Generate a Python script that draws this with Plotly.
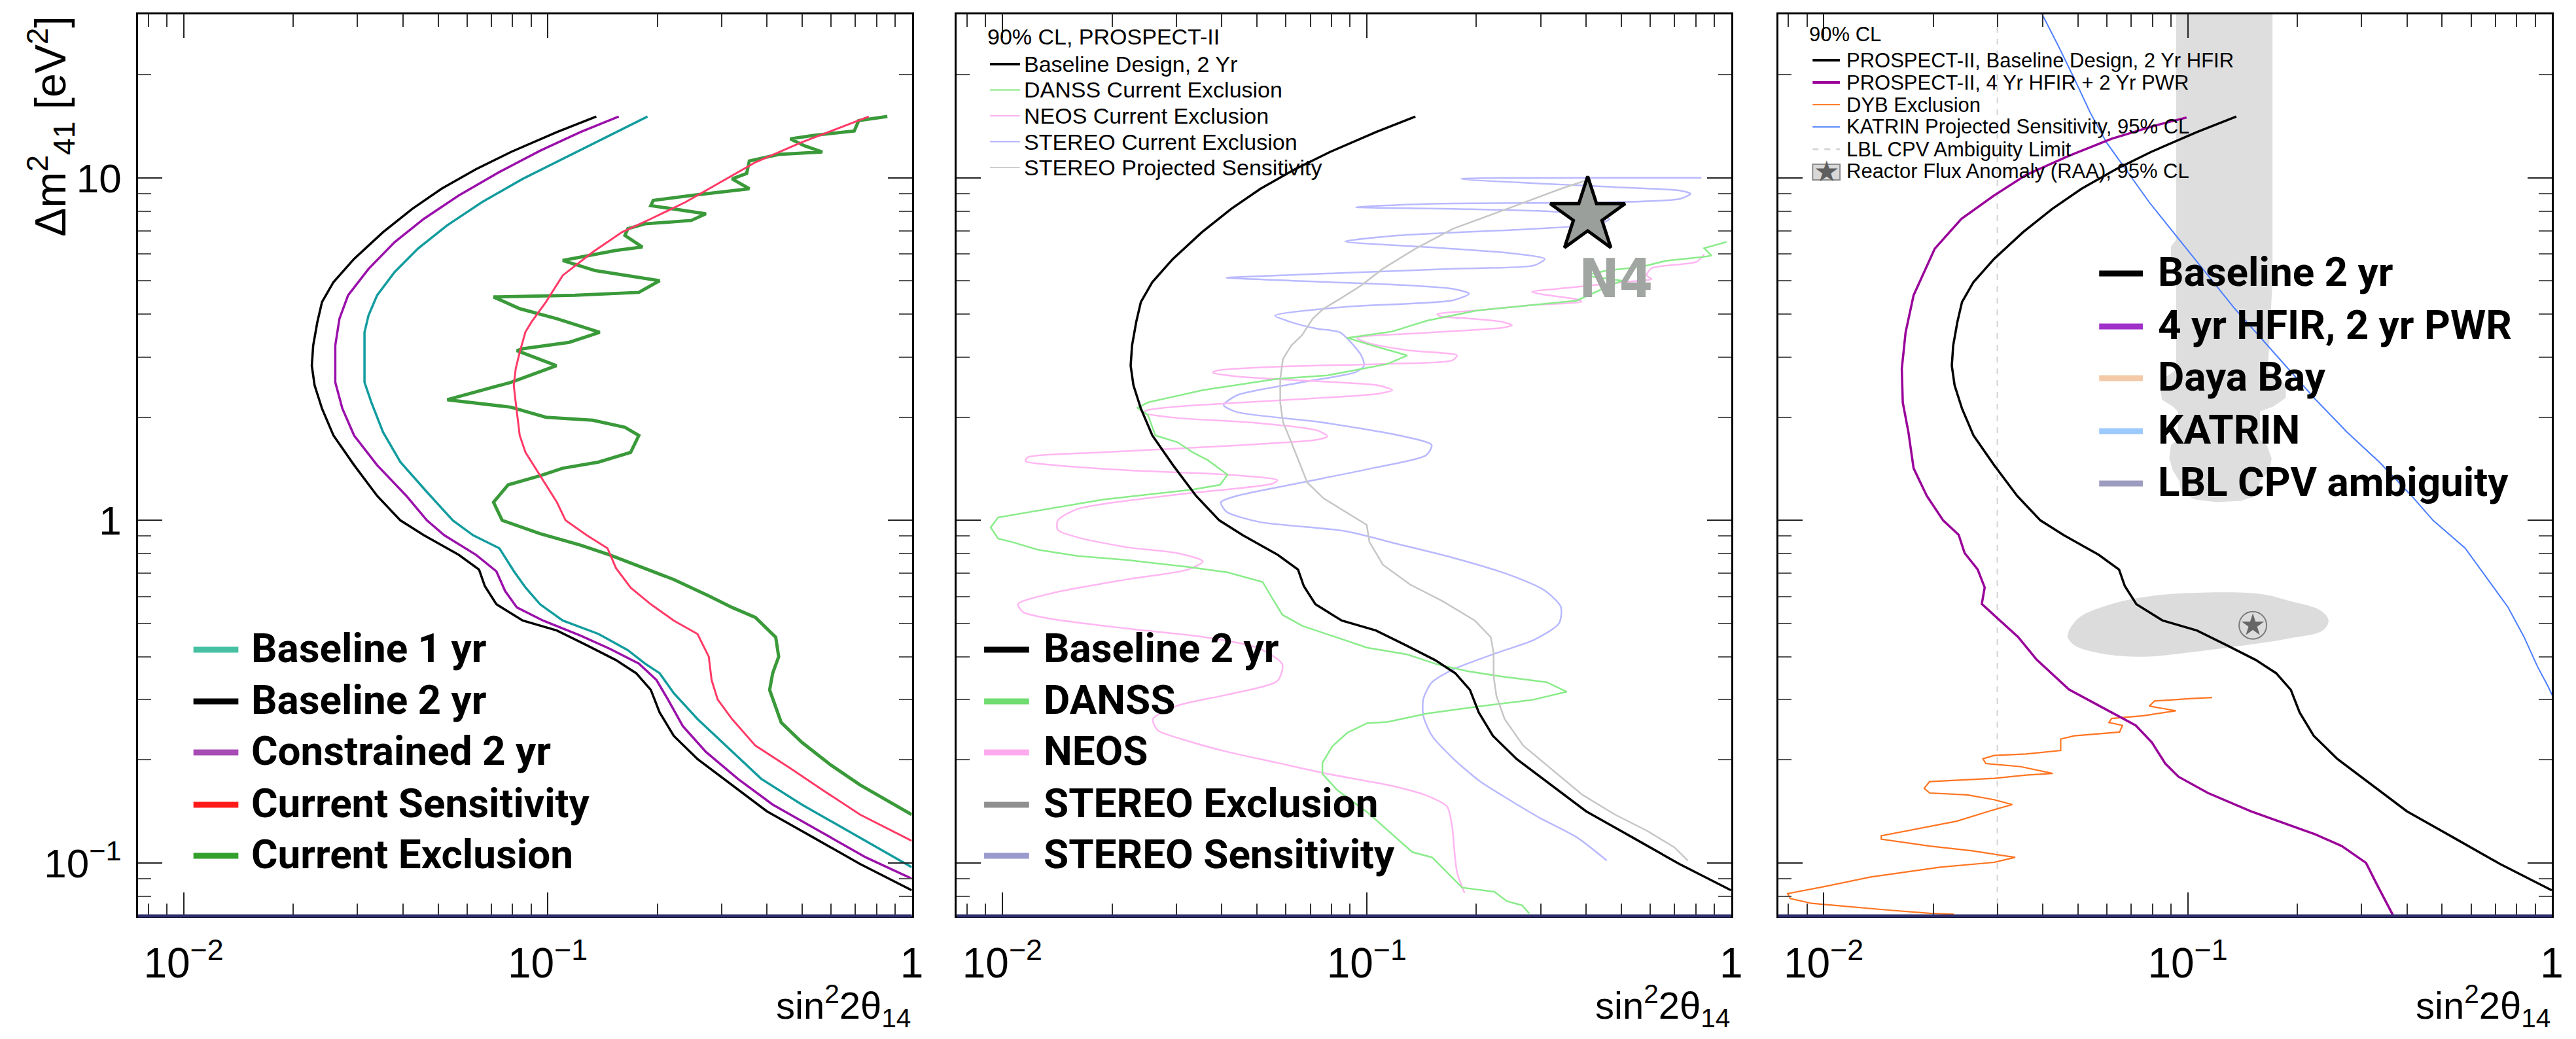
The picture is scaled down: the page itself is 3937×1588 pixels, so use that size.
import math
import plotly.graph_objects as go

# ---------------- data (sin^2 2theta14 , dm^2_41 [eV^2]) ----------------
baseline_2yr_x = [0.136, 0.106, 0.0793, 0.0636, 0.0511, 0.0425, 0.0353, 0.0294, 0.0258, 0.0240, 0.0233, 0.0227,
                  0.0225, 0.0229, 0.0240, 0.0258, 0.0294, 0.0340, 0.0394, 0.0457, 0.0570, 0.0648, 0.0672, 0.0723,
                  0.0854, 0.106, 0.128, 0.154, 0.175, 0.192, 0.203, 0.222, 0.258, 0.321, 0.400, 0.537, 0.721, 1.0]
baseline_2yr_y = [15.1, 13.6, 11.9, 10.6, 9.29, 8.12, 6.94, 5.80, 4.96, 4.34, 3.79, 3.24,
                  2.83, 2.48, 2.12, 1.77, 1.45, 1.18, 1.0, 0.905, 0.793, 0.718, 0.643, 0.569,
                  0.510, 0.477, 0.432, 0.391, 0.358, 0.320, 0.275, 0.235, 0.201, 0.169, 0.1415, 0.1186, 0.0993, 0.0832]

constrained_2yr_x = [0.1567, 0.123, 0.0953, 0.0737, 0.0570, 0.0457, 0.0380, 0.0322, 0.0283, 0.0268, 0.0261, 0.0261,
                     0.0273, 0.0294, 0.0340, 0.0409, 0.0466, 0.0520, 0.0636, 0.0723, 0.0764, 0.0823, 0.0971, 0.123,
                     0.148, 0.178, 0.199, 0.214, 0.235, 0.272, 0.333, 0.415, 0.557, 0.748, 1.0]
constrained_2yr_y = [15.1, 13.6, 12.0, 10.4, 8.88, 7.59, 6.49, 5.42, 4.54, 3.88, 3.24, 2.53,
                     2.12, 1.77, 1.45, 1.18, 1.0, 0.905, 0.793, 0.710, 0.622, 0.557, 0.510, 0.461,
                     0.422, 0.382, 0.342, 0.300, 0.251, 0.211, 0.176, 0.148, 0.124, 0.1038, 0.090]

baseline_1yr_x = [0.188, 0.148, 0.1146, 0.0854, 0.066, 0.0529, 0.044, 0.038, 0.034, 0.0322, 0.0314, 0.0314,
                  0.0328, 0.0353, 0.0394, 0.0466, 0.0549, 0.0624, 0.0737, 0.0808, 0.087, 0.0953, 0.110, 0.138,
                  0.166, 0.185, 0.203, 0.222, 0.258, 0.309, 0.386, 0.499, 0.670, 1.0]
baseline_1yr_y = [15.1, 13.3, 11.6, 9.93, 8.49, 7.26, 6.21, 5.31, 4.54, 3.96, 3.54, 2.53,
                  2.21, 1.81, 1.48, 1.21, 1.0, 0.905, 0.829, 0.710, 0.636, 0.569, 0.510, 0.466,
                  0.418, 0.382, 0.358, 0.313, 0.263, 0.220, 0.176, 0.148, 0.124, 0.0972]

current_sens_x = [0.762, 0.622, 0.499, 0.372, 0.298, 0.239, 0.192, 0.160, 0.133, 0.110, 0.0989, 0.0902, 0.0869,
                  0.0838, 0.0817, 0.0807, 0.0817, 0.0838, 0.0869, 0.0953, 0.106, 0.112, 0.128, 0.146, 0.154,
                  0.169, 0.192, 0.222, 0.258, 0.277, 0.282, 0.293, 0.321, 0.372, 0.464, 0.578, 0.721, 1.0]
current_sens_y = [15.1, 13.9, 12.7, 11.1, 9.71, 8.49, 7.59, 6.94, 6.07, 5.19, 4.34, 3.79, 3.55,
                  3.10, 2.77, 2.48, 2.21, 1.77, 1.58, 1.35, 1.13, 1.0, 0.905, 0.829, 0.726,
                  0.636, 0.569, 0.510, 0.466, 0.400, 0.342, 0.300, 0.263, 0.220, 0.189, 0.1615, 0.1384, 0.116]

current_excl_x = [0.857, 0.715, 0.695, 0.537, 0.464, 0.508, 0.568, 0.431, 0.358, 0.352,
                  0.321, 0.358, 0.248, 0.195, 0.192, 0.272, 0.248, 0.185, 0.166, 0.163,
                  0.182, 0.154, 0.123, 0.110, 0.135, 0.203, 0.178, 0.119, 0.071, 0.0838,
                  0.106, 0.139, 0.1146, 0.0854, 0.0823, 0.1057, 0.0793, 0.053, 0.0793, 0.0989,
                  0.133, 0.163, 0.178, 0.169, 0.138, 0.110, 0.0953, 0.0779, 0.071, 0.075,
                  0.0953, 0.123, 0.148, 0.185, 0.222, 0.277, 0.321, 0.372, 0.423, 0.431,
                  0.415, 0.407, 0.438, 0.499, 0.600, 0.721, 1.0]
current_excl_y = [15.1, 14.7, 13.7, 13.3, 13.0, 12.4, 11.9, 11.7, 11.2, 10.3,
                  9.93, 9.29, 8.88, 8.59, 8.30, 7.85, 7.51, 7.34, 7.10, 6.79,
                  6.28, 6.14, 5.87, 5.74, 5.36, 5.01, 4.63, 4.54, 4.49, 4.15,
                  3.88, 3.54, 3.31, 3.17, 3.13, 2.83, 2.53, 2.25, 2.14, 2.00,
                  1.96, 1.87, 1.77, 1.58, 1.48, 1.42, 1.35, 1.27, 1.13, 1.0,
                  0.915, 0.847, 0.793, 0.726, 0.672, 0.602, 0.557, 0.521, 0.456, 0.400,
                  0.358, 0.320, 0.257, 0.225, 0.193, 0.169, 0.1384]

stereo_sens_x = [0.412, 0.341, 0.243, 0.1725, 0.136, 0.1108, 0.0966, 0.0844, 0.0761, 0.0711,
                 0.0664, 0.0621, 0.0589, 0.0579, 0.0579, 0.0589, 0.0621, 0.0653, 0.0687, 0.0761,
                 0.0873, 0.1, 0.1017, 0.1108, 0.1314, 0.161, 0.198, 0.219, 0.223, 0.223,
                 0.227, 0.239, 0.269, 0.319, 0.391, 0.480, 0.589, 0.699, 0.761]
stereo_sens_y = [9.93, 9.29, 8.12, 7.10, 6.21, 5.43, 4.85, 4.43, 4.15, 3.88,
                 3.47, 3.24, 2.96, 2.59, 2.21, 1.94, 1.69, 1.48, 1.29, 1.16,
                 1.06, 0.97, 0.866, 0.742, 0.650, 0.582, 0.510, 0.456, 0.409, 0.350,
                 0.307, 0.263, 0.220, 0.189, 0.158, 0.1384, 0.124, 0.111, 0.1016]

stereo_excl_x = [0.829, 0.1817, 0.480, 0.723, 0.774, 0.723, 0.480, 0.1507, 0.0934, 0.1725,
                 0.341, 0.464, 0.434, 0.288, 0.1227, 0.0873, 0.1456, 0.243, 0.308, 0.288,
                 0.1725, 0.0873, 0.0441, 0.0412, 0.062, 0.1227, 0.1725, 0.191, 0.1725, 0.0873,
                 0.056, 0.062, 0.0736, 0.0844, 0.0966, 0.0983, 0.0934, 0.0664, 0.0441, 0.0405,
                 0.0441, 0.0736, 0.1227, 0.1507, 0.1456, 0.1035, 0.0664, 0.0441, 0.0398, 0.0412,
                 0.0506, 0.0873, 0.1227, 0.1725, 0.243, 0.308, 0.341, 0.337, 0.288, 0.227,
                 0.1725, 0.1507, 0.143, 0.143, 0.1507, 0.1725, 0.2047, 0.251, 0.298, 0.378, 0.456]
stereo_excl_y = [10.0, 9.93, 9.39, 9.18, 8.98, 8.68, 8.49, 8.40, 8.21, 8.12,
                 7.94, 7.59, 7.34, 7.10, 6.79, 6.52, 6.28, 6.04, 5.80, 5.55,
                 5.43, 5.28, 5.13, 5.11, 5.01, 4.87, 4.74, 4.59, 4.39, 4.20,
                 3.96, 3.79, 3.62, 3.54, 3.03, 2.83, 2.71, 2.53, 2.32, 2.17,
                 2.07, 1.94, 1.77, 1.66, 1.55, 1.42, 1.29, 1.18, 1.13, 1.06,
                 0.99, 0.93, 0.851, 0.778, 0.697, 0.624, 0.559, 0.500, 0.448, 0.410,
                 0.367, 0.336, 0.301, 0.269, 0.236, 0.202, 0.173, 0.151, 0.1355, 0.1186, 0.1016]

danss_x = [0.971, 0.843, 0.884, 0.843, 0.665, 0.568, 0.456, 0.396, 0.501, 0.442,
           0.377, 0.275, 0.201, 0.1466, 0.1175, 0.0885, 0.1036, 0.1292, 0.1139, 0.078,
           0.0569, 0.0355, 0.0251, 0.0235, 0.0251, 0.0263, 0.0303, 0.0333, 0.0366, 0.0415,
           0.0396, 0.0333, 0.0189, 0.00974, 0.00929, 0.00974, 0.0107, 0.01253, 0.0161, 0.0221,
           0.0323, 0.0415, 0.0518, 0.0551, 0.0587, 0.0666, 0.0857, 0.1004, 0.1292, 0.156,
           0.1886, 0.235, 0.312, 0.354, 0.284, 0.201, 0.1466, 0.1139, 0.1004, 0.0885,
           0.0805, 0.0756, 0.0756, 0.0831, 0.1004, 0.1175, 0.1333, 0.1512, 0.1662, 0.1827,
           0.224, 0.2426, 0.2667, 0.2796]
danss_y = [6.50, 6.23, 5.93, 5.88, 5.73, 5.50, 5.36, 5.19, 5.01, 4.73,
           4.38, 4.24, 4.10, 3.83, 3.56, 3.41, 3.24, 3.03, 2.86, 2.65,
           2.59, 2.40, 2.21, 2.13, 2.03, 1.77, 1.69, 1.58, 1.50, 1.36,
           1.27, 1.23, 1.15, 1.02, 0.954, 0.885, 0.863, 0.821, 0.787, 0.766,
           0.731, 0.705, 0.661, 0.592, 0.530, 0.492, 0.449, 0.425, 0.406, 0.380,
           0.363, 0.350, 0.337, 0.316, 0.299, 0.286, 0.273, 0.258, 0.256, 0.240,
           0.219, 0.196, 0.182, 0.163, 0.1406, 0.1213, 0.1076, 0.1038, 0.0938, 0.0847,
           0.0824, 0.0773, 0.0752, 0.0711]

neos_x = [0.843, 0.804, 0.605, 0.586, 0.605, 0.517, 0.354, 0.284, 0.3025, 0.377,
          0.389, 0.275, 0.201, 0.156, 0.161, 0.1827, 0.235, 0.2503, 0.235, 0.1466,
          0.0942, 0.1004, 0.1292, 0.177, 0.1715, 0.1069, 0.0569, 0.039, 0.0378, 0.0442,
          0.0666, 0.1069, 0.1175, 0.1069, 0.0569, 0.0303, 0.0251, 0.0243, 0.0303, 0.0486,
          0.0732, 0.078, 0.0732, 0.0415, 0.0189, 0.01177, 0.01158, 0.01377, 0.0221, 0.0415,
          0.0569, 0.0551, 0.0303, 0.0161, 0.0142, 0.0142, 0.0161, 0.0221, 0.0303, 0.0355,
          0.0323, 0.0221, 0.01377, 0.01105, 0.0114, 0.01377, 0.0221, 0.0355, 0.0501, 0.0587,
          0.0569, 0.0415, 0.0303, 0.0259, 0.0267, 0.0323, 0.0415, 0.0569, 0.078, 0.1139,
          0.1466, 0.1662, 0.1715, 0.1743, 0.177, 0.1855]
neos_y = [5.98, 5.69, 5.45, 5.19, 5.06, 4.97, 4.77, 4.65, 4.57, 4.42,
          4.35, 4.24, 4.10, 4.00, 3.93, 3.90, 3.80, 3.71, 3.65, 3.53,
          3.41, 3.30, 3.14, 3.03, 2.93, 2.86, 2.81, 2.74, 2.70, 2.63,
          2.56, 2.48, 2.40, 2.34, 2.24, 2.15, 2.10, 2.06, 1.99, 1.93,
          1.83, 1.76, 1.72, 1.65, 1.58, 1.53, 1.49, 1.45, 1.40, 1.36,
          1.31, 1.28, 1.19, 1.08, 1.00, 0.938, 0.892, 0.834, 0.802, 0.759,
          0.718, 0.673, 0.614, 0.570, 0.540, 0.515, 0.483, 0.457, 0.425, 0.380,
          0.340, 0.310, 0.288, 0.263, 0.244, 0.227, 0.211, 0.196, 0.182, 0.169,
          0.157, 0.146, 0.128, 0.1067, 0.0938, 0.0817]

n4_x = [0.404]
n4_y = [7.75]
n4_label_x = 0.483
n4_label_y = 5.08

hfir_pwr_x = [0.0993, 0.0811, 0.0618, 0.0472, 0.036, 0.0294, 0.0239, 0.0202, 0.01767, 0.0168,
              0.0164, 0.0165, 0.0171, 0.01767, 0.0192, 0.0213, 0.0235, 0.0244, 0.0265, 0.0277,
              0.0272, 0.0304, 0.0342, 0.0385, 0.0472, 0.0618, 0.0720, 0.0797, 0.0868, 0.0944,
              0.1137, 0.149, 0.1827, 0.224, 0.265, 0.309, 0.330, 0.366]
hfir_pwr_y = [15.0, 14.2, 13.0, 11.6, 10.2, 8.88, 7.59, 6.21, 4.54, 3.54,
              2.77, 2.21, 1.81, 1.42, 1.18, 1.0, 0.907, 0.803, 0.719, 0.637,
              0.570, 0.511, 0.457, 0.392, 0.321, 0.275, 0.252, 0.225, 0.195, 0.1785,
              0.160, 0.1415, 0.131, 0.1212, 0.112, 0.100, 0.087, 0.0705]

dyb_x = [0.1168, 0.1027, 0.0811, 0.0784, 0.0928, 0.0868, 0.0757, 0.0618, 0.0608, 0.0662,
         0.065, 0.0488, 0.0448, 0.0448, 0.036, 0.0294, 0.0274, 0.0279, 0.0348, 0.0426,
         0.036, 0.0294, 0.01955, 0.0189, 0.01955, 0.0248, 0.0294, 0.033, 0.0294, 0.0232,
         0.01767, 0.0144, 0.0144, 0.01955, 0.0256, 0.0336, 0.0294, 0.0209, 0.01347, 0.00993,
         0.00797, 0.0081, 0.00928, 0.01177, 0.0149, 0.01955, 0.0228]
dyb_y = [0.304, 0.302, 0.297, 0.287, 0.278, 0.275, 0.269, 0.264, 0.257, 0.252,
         0.241, 0.235, 0.230, 0.213, 0.208, 0.206, 0.2015, 0.195, 0.191, 0.1825,
         0.1805, 0.1766, 0.1727, 0.1652, 0.160, 0.158, 0.153, 0.148, 0.143, 0.1324,
         0.1253, 0.120, 0.1173, 0.112, 0.1085, 0.1038, 0.1004, 0.0972, 0.091, 0.0851,
         0.0814, 0.0787, 0.0762, 0.0745, 0.0729, 0.0713, 0.0708]

katrin_x = [0.0398, 0.0441, 0.0488, 0.054, 0.0598, 0.0684, 0.0784, 0.0897, 0.1027, 0.1177,
            0.1347, 0.1596, 0.189, 0.224, 0.274, 0.336, 0.412, 0.472, 0.578, 0.662,
            0.758, 0.839, 0.913, 0.976, 1.01]
katrin_y = [30.1, 24.3, 19.5, 15.5, 12.7, 10.4, 8.49, 7.10, 5.93, 4.96,
            4.15, 3.39, 2.77, 2.26, 1.81, 1.48, 1.18, 1.0, 0.830, 0.681,
            0.558, 0.457, 0.375, 0.328, 0.304]

lbl_cpv_x = [0.03, 0.03]
lbl_cpv_y = [0.07, 30.0]

raa_band_x = [0.093, 0.093, 0.090, 0.090, 0.093, 0.093, 0.087, 0.084, 0.085, 0.091, 0.094, 0.094,
              0.090, 0.089, 0.091, 0.095, 0.096, 0.105, 0.12, 0.14, 0.155, 0.158, 0.168, 0.170,
              0.165, 0.158, 0.158, 0.172, 0.186, 0.186, 0.178, 0.166, 0.168, 0.171, 0.171]
raa_band_y = [30.0, 6.6, 6.3, 5.8, 5.5, 2.75, 2.62, 2.45, 2.25, 2.15, 2.08, 1.72,
              1.66, 1.52, 1.40, 1.30, 1.20, 1.15, 1.13, 1.14, 1.18, 1.30, 1.40, 1.52,
              1.66, 1.72, 2.08, 2.15, 2.28, 2.48, 2.60, 2.75, 3.5, 5.0, 30.0]

raa_ellipse_x = [0.0472, 0.0505, 0.0618, 0.0811, 0.1137, 0.1596, 0.189, 0.2316, 0.2436,
                 0.2355, 0.189, 0.1347, 0.0960, 0.0757, 0.0578, 0.0488, 0.0467]
raa_ellipse_y = [0.478, 0.522, 0.570, 0.603, 0.616, 0.609, 0.583, 0.546, 0.511,
                 0.478, 0.452, 0.428, 0.409, 0.400, 0.409, 0.432, 0.457]
raa_best_x = [0.151]
raa_best_y = [0.494]

x_tick_vals = [0.01, 0.1, 1]
x_tick_text = ["10<sup>\u22122</sup>", "10<sup>\u22121</sup>", "1"]
y_tick_vals = [0.1, 1, 10]
y_tick_text = ["10<sup>\u22121</sup>", "1", "10"]
x_minor_vals = [0.008, 0.009, 0.02, 0.03, 0.04, 0.05, 0.06, 0.07, 0.08, 0.09,
                0.2, 0.3, 0.4, 0.5, 0.6, 0.7, 0.8, 0.9]
y_minor_vals = [0.08, 0.09, 0.2, 0.3, 0.4, 0.5, 0.6, 0.7, 0.8, 0.9,
                2, 3, 4, 5, 6, 7, 8, 9, 20]

legend1_names = ["Baseline 1 yr", "Baseline 2 yr", "Constrained 2 yr", "Current Sensitivity", "Current Exclusion"]
legend1_colors = ["#45c0a2", "black", "#a64cb4", "#ff1a1a", "#33a02c"]
legend2_names = ["Baseline 2 yr", "DANSS", "NEOS", "STEREO Exclusion", "STEREO Sensitivity"]
legend2_colors = ["black", "#6fdc6f", "#ffaaee", "#8f8f8f", "#9a9acc"]
legend3_names = ["Baseline 2 yr", "4 yr HFIR, 2 yr PWR", "Daya Bay", "KATRIN", "LBL CPV ambiguity"]
legend3_colors = ["black", "#a030c8", "#f3c9a8", "#9ccaff", "#9c9cc0"]

# ---------------- layout constants ----------------
W, H = 3937, 1588
PANELS = [(212, 1400), (1469, 2658), (2730, 3918)]
Y_TOP, Y_BOT = 22, 1400
XR = [math.log10(0.0075), 0.0002]
YR = [math.log10(0.07), math.log10(30.0)]
TXT = "Liberation Sans, Arial, Helvetica, sans-serif"
BOLD = "Roboto, Liberation Sans, Arial, sans-serif"


def px(v):
    return v / W


def py(v):
    return 1 - v / H


fig = go.Figure()


def line(xs, ys, color, width, ax, dash="solid", shape="linear"):
    fig.add_trace(go.Scatter(x=xs, y=ys, mode="lines", showlegend=False, hoverinfo="skip",
                             line=dict(color=color, width=width, dash=dash, shape=shape,
                                       smoothing=0.7 if shape == "spline" else None),
                             xaxis="x" + ax, yaxis="y" + ax))


# ---- panel 1 ----
line(current_excl_x, current_excl_y, "#3a9a3a", 5, "")
line(current_sens_x, current_sens_y, "#ff3a66", 3, "")
line(baseline_1yr_x, baseline_1yr_y, "#129c9e", 3.5, "")
line(constrained_2yr_x, constrained_2yr_y, "#9a10aa", 3.5, "")
line(baseline_2yr_x, baseline_2yr_y, "black", 3.5, "")

# ---- panel 2 ----
line(stereo_excl_x, stereo_excl_y, "#b9b9ff", 2.5, "2", shape="spline")
line(neos_x, neos_y, "#ffb6f2", 2.5, "2", shape="spline")
line(danss_x, danss_y, "#8aec8a", 2.5, "2")
line(stereo_sens_x, stereo_sens_y, "#c6c6c6", 2.5, "2")
line(baseline_2yr_x, baseline_2yr_y, "black", 3.5, "2")
fig.add_trace(go.Scatter(x=n4_x, y=n4_y, mode="markers", showlegend=False, hoverinfo="skip",
                         marker=dict(symbol="star", size=86, color="#9b9f9b", line=dict(color="black", width=5)),
                         xaxis="x2", yaxis="y2"))

# ---- panel 3 ----
fig.add_trace(go.Scatter(x=raa_band_x, y=raa_band_y, mode="lines", fill="toself", fillcolor="#dedede",
                         line=dict(width=0, color="#dedede"), showlegend=False, hoverinfo="skip",
                         xaxis="x3", yaxis="y3"))
fig.add_trace(go.Scatter(x=raa_ellipse_x, y=raa_ellipse_y, mode="lines", fill="toself", fillcolor="#dcdcdc",
                         line=dict(width=0, color="#dcdcdc", shape="spline"), showlegend=False, hoverinfo="skip",
                         xaxis="x3", yaxis="y3"))
line(lbl_cpv_x, lbl_cpv_y, "#d4d4d4", 2, "3", dash="dash")
line(dyb_x, dyb_y, "#ff7420", 2.2, "3")
line(katrin_x, katrin_y, "#4a7dff", 2, "3")
line(hfir_pwr_x, hfir_pwr_y, "#990099", 3.5, "3")
line(baseline_2yr_x, baseline_2yr_y, "black", 3.5, "3")
fig.add_trace(go.Scatter(x=raa_best_x, y=raa_best_y, mode="markers", showlegend=False, hoverinfo="skip",
                         marker=dict(symbol="circle-open", size=42, color="#7a7a7a", line=dict(width=2)),
                         xaxis="x3", yaxis="y3"))
fig.add_trace(go.Scatter(x=raa_best_x, y=raa_best_y, mode="markers", showlegend=False, hoverinfo="skip",
                         marker=dict(symbol="star", size=26, color="#666666", line=dict(width=0)),
                         xaxis="x3", yaxis="y3"))

# ---------------- axes ----------------
for i, (x0, x1) in enumerate(PANELS):
    sfx = "" if i == 0 else str(i + 1)
    fig.layout["xaxis" + sfx] = dict(
        type="log", range=XR, domain=[px(x0), px(x1)], anchor="y" + sfx,
        showgrid=False, zeroline=False, showline=True, linecolor="black", linewidth=3, mirror="ticks",
        ticks="inside", ticklen=36, tickwidth=2, tickcolor="#222",
        tickmode="array", tickvals=x_tick_vals, ticktext=x_tick_text,
        tickfont=dict(family=TXT, size=64, color="black"), ticklabelstandoff=14,
        minor=dict(ticks="inside", ticklen=19, tickwidth=2, tickcolor="#333", tickmode="array",
                   tickvals=x_minor_vals, showgrid=False))
    fig.layout["yaxis" + sfx] = dict(
        type="log", range=YR, domain=[py(Y_BOT), py(Y_TOP)], anchor="x" + sfx,
        showgrid=False, zeroline=False, showline=True, linecolor="black", linewidth=3, mirror="ticks",
        ticks="inside", ticklen=37, tickwidth=2, tickcolor="#222",
        tickmode="array", tickvals=y_tick_vals, ticktext=y_tick_text, showticklabels=(i == 0),
        tickfont=dict(family=TXT, size=62, color="black"), ticklabelstandoff=10,
        minor=dict(ticks="inside", ticklen=20, tickwidth=2, tickcolor="#555", tickmode="array",
                   tickvals=y_minor_vals, showgrid=False))

shapes = []
annotations = []
for i, (x0, x1) in enumerate(PANELS):
    sfx = "" if i == 0 else str(i + 1)
    shapes.append(dict(type="line", xref="x" + sfx + " domain", yref="y" + sfx + " domain",
                       x0=0, x1=1, y0=0, y1=0, line=dict(color="#2e2e6e", width=5), layer="above"))
    annotations.append(dict(text="sin<sup>2</sup>2\u03b8<sub>14</sub>", xref="x" + sfx + " domain", yref="paper",
                            x=1.0, y=py(1537), xanchor="right", yanchor="middle", showarrow=False,
                            font=dict(family=TXT, size=58, color="black")))

annotations.append(dict(text="\u0394m<sup>2</sup><sub>41</sub> [eV<sup>2</sup>]", textangle=-90,
                        xref="paper", yref="paper", x=px(78), y=py(22), xanchor="center", yanchor="top",
                        showarrow=False, font=dict(family=TXT, size=66, color="black")))

annotations.append(dict(text="<b>N4</b>", xref="x2", yref="y2", x=math.log10(n4_label_x),
                        y=math.log10(n4_label_y), showarrow=False,
                        font=dict(family="Liberation Sans Narrow, DejaVu Sans Condensed, Arial", size=82,
                                  color="#a2a6a2")))

# big bold legends
BIG = dict(family=BOLD, size=62, color="black", weight="bold")
big_legends = [(297, 366, 384, [990, 1069, 1147, 1227, 1305], legend1_names, legend1_colors),
               (1511, 1580, 1600, [990, 1069, 1147, 1227, 1305], legend2_names, legend2_colors),
               (3223, 3290, 3311, [415, 496, 575, 656, 736], legend3_names, legend3_colors)]
for sx0, sx1, tx, rows, names, colors in big_legends:
    for yy, nm, c in zip(rows, names, colors):
        shapes.append(dict(type="line", xref="paper", yref="paper", x0=px(sx0), x1=px(sx1), y0=py(yy + 3),
                           y1=py(yy + 3), line=dict(color=c, width=9)))
        annotations.append(dict(text=nm, xref="paper", yref="paper", x=px(tx), y=py(yy), xanchor="left",
                                yanchor="middle", showarrow=False, font=BIG))

# small top-left legends (panels 2 and 3)
SMALL2 = dict(family=TXT, size=34, color="black")
SMALL3 = dict(family=TXT, size=31, color="black")
annotations.append(dict(text="90% CL, PROSPECT-II", xref="paper", yref="paper", x=px(1514), y=py(56),
                        xanchor="left", yanchor="middle", showarrow=False, font=SMALL2))
p2_items = [("Baseline Design, 2 Yr", "black", 4, "solid"),
            ("DANSS Current Exclusion", "#7be87b", 2, "solid"),
            ("NEOS Current Exclusion", "#ffb3ef", 2, "solid"),
            ("STEREO Current Exclusion", "#b3b3ff", 2, "solid"),
            ("STEREO Projected Sensitivity", "#cfcfcf", 2, "solid")]
for k, (t, c, w, d) in enumerate(p2_items):
    yy = 98 + 39.5 * k
    shapes.append(dict(type="line", xref="paper", yref="paper", x0=px(1520), x1=px(1566), y0=py(yy), y1=py(yy),
                       line=dict(color=c, width=w, dash=d)))
    annotations.append(dict(text=t, xref="paper", yref="paper", x=px(1570), y=py(yy), xanchor="left",
                            yanchor="middle", showarrow=False, font=SMALL2))

annotations.append(dict(text="90% CL", xref="paper", yref="paper", x=px(2776), y=py(53),
                        xanchor="left", yanchor="middle", showarrow=False, font=SMALL3))
p3_items = [("PROSPECT-II, Baseline Design, 2 Yr HFIR", "black", 4, "solid"),
            ("PROSPECT-II, 4 Yr HFIR + 2 Yr PWR", "#990099", 4, "solid"),
            ("DYB Exclusion", "#ff7f2a", 2, "solid"),
            ("KATRIN Projected Sensitivity, 95% CL", "#5b8cff", 2, "solid"),
            ("LBL CPV Ambiguity Limit", "#d6d6d6", 3, "dash"),
            ("Reactor Flux Anomaly (RAA), 95% CL", None, 0, "solid")]
for k, (t, c, w, d) in enumerate(p3_items):
    yy = 92 + 34 * k
    if c is not None:
        shapes.append(dict(type="line", xref="paper", yref="paper", x0=px(2783), x1=px(2825), y0=py(yy),
                           y1=py(yy), line=dict(color=c, width=w, dash=d)))
    else:
        shapes.append(dict(type="rect", xref="paper", yref="paper", x0=px(2783), x1=px(2825), y0=py(yy + 13),
                           y1=py(yy - 11), fillcolor="#d8d8d8", line=dict(color="#8c8c8c", width=2)))
        annotations.append(dict(text="\u2605", xref="paper", yref="paper", x=px(2804), y=py(yy), xanchor="center",
                                yanchor="middle", showarrow=False,
                                font=dict(family="DejaVu Sans", size=44, color="#5e5e5e")))
    annotations.append(dict(text=t, xref="paper", yref="paper", x=px(2833), y=py(yy), xanchor="left",
                            yanchor="middle", showarrow=False, font=SMALL3))

fig.update_layout(
    width=W, height=H, autosize=False,
    margin=dict(l=0, r=0, t=0, b=0, pad=0),
    paper_bgcolor="white", plot_bgcolor="white",
    showlegend=False,
    shapes=shapes, annotations=annotations,
)

fig.write_html("out.html")
